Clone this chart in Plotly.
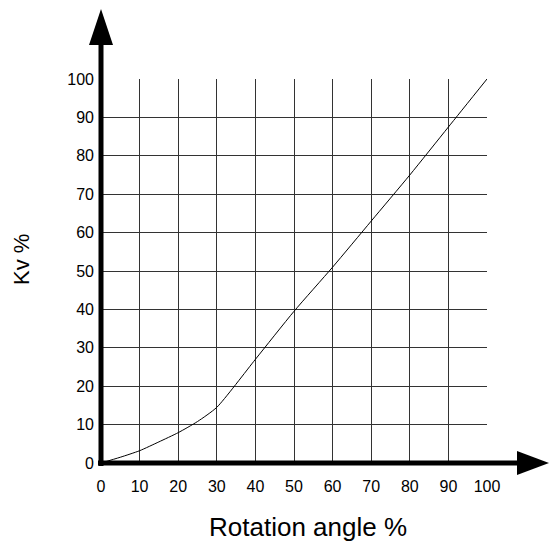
import plotly.graph_objects as go

# Data
rotation = [0, 5, 10, 15, 20, 25, 30, 40, 50, 60, 70, 80, 90, 100]
kv = [0, 1.5, 3.2, 5.5, 7.9, 10.8, 14.5, 27, 39.5, 51, 63, 75, 87.5, 100]
tick_vals = [0, 10, 20, 30, 40, 50, 60, 70, 80, 90, 100]
tick_text = [str(v) for v in tick_vals]

W, H = 549, 546
L, R, T, B = 101, 62, 79, 83
pw, ph = W - L - R, H - T - B

def px(x):
    return (x - L) / pw

def py(y):
    return (H - B - y) / ph

fig = go.Figure()
fig.add_trace(go.Scatter(x=rotation, y=kv, mode="lines",
                         line=dict(color="black", width=1, shape="spline", smoothing=0.6),
                         hoverinfo="skip", showlegend=False, cliponaxis=False))

font = "Arial, Liberation Sans, sans-serif"
axis_common = dict(range=[0, 100], tickvals=tick_vals, ticktext=tick_text,
                   showgrid=True, gridcolor="#333333", gridwidth=1,
                   zeroline=False, showline=False, ticks="",
                   tickfont=dict(family=font, size=16, color="black"),
                   fixedrange=True)
fig.update_layout(
    width=W, height=H,
    margin=dict(l=L, r=R, t=T, b=B, pad=0),
    paper_bgcolor="white", plot_bgcolor="white",
    xaxis=dict(**axis_common, ticklabelstandoff=12),
    yaxis=dict(**axis_common, ticklabelstandoff=6),
    showlegend=False,
)

shapes = []
# y axis line + arrow
shapes.append(dict(type="line", xref="paper", yref="paper", x0=0, x1=0,
                   y0=py(466), y1=py(45), line=dict(color="black", width=5)))
shapes.append(dict(type="path", xref="paper", yref="paper",
                   path=f"M {px(89)} {py(45)} L {px(101)} {py(9)} L {px(113)} {py(45)} Z",
                   fillcolor="black", line=dict(color="black", width=0)))
# x axis line + arrow
shapes.append(dict(type="line", xref="paper", yref="paper", x0=px(98), x1=px(518),
                   y0=0, y1=0, line=dict(color="black", width=5)))
shapes.append(dict(type="path", xref="paper", yref="paper",
                   path=f"M {px(517)} {py(451)} L {px(549)} {py(463)} L {px(517)} {py(475)} Z",
                   fillcolor="black", line=dict(color="black", width=0)))
fig.update_layout(shapes=shapes)

fig.add_annotation(text="Rotation angle %", xref="paper", yref="paper",
                   x=px(308), y=py(527), showarrow=False,
                   font=dict(family=font, size=26, color="black"),
                   xanchor="center", yanchor="middle")
fig.add_annotation(text="Kv %", xref="paper", yref="paper",
                   x=px(21), y=py(260), showarrow=False, textangle=-90,
                   font=dict(family=font, size=22, color="black"),
                   xanchor="center", yanchor="middle")

fig.write_html("out.html", config={"displayModeBar": False},
               post_script="document.body.style.margin='0px';document.body.style.overflow='hidden';")
